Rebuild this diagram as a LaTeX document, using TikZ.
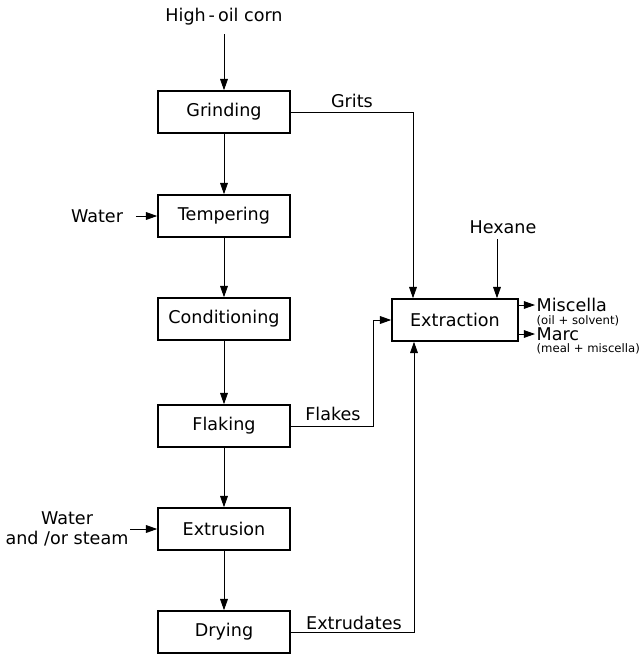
\documentclass[tikz,border=0pt]{standalone}
\usepackage{fontspec}
\setmainfont{DejaVu Sans}
\usetikzlibrary{arrows.meta,calc}
\tikzset{
    stage/.style={draw, line width=1.1pt, minimum width=3.3cm, minimum height=1.05cm,
        inner sep=0pt, font=\fontsize{12.5}{14}\selectfont},
    flow/.style={-{Triangle[length=8pt,width=5.5pt]}, line width=0.6pt},
    lbl/.style={font=\fontsize{12.5}{14}\selectfont, inner sep=1pt},
    note/.style={font=\fontsize{8.3}{9}\selectfont, inner sep=1pt},
}

\begin{document}
\begin{tikzpicture}[x=0.025cm, y=-0.025cm]
    \useasboundingbox (0,0) rectangle (643,654);

    \node[stage] (grinding) at (224,112) {Grinding};
    \node[stage] (tempering) at (224,216) {Tempering};
    \node[stage] (conditioning) at (224,319) {Conditioning};
    \node[stage] (flaking) at (224,426) {Flaking};
    \node[stage] (extrusion) at (224,529) {Extrusion};
    \node[stage] (drying) at (224,632) {Drying};
    \node[stage, minimum width=3.15cm] (extraction) at (455,320) {Extraction};

    \node[lbl] (corn) at (224,17) {High\,-\,oil corn};
    \node[lbl] (water) at (97,216) {Water};
    \node[lbl, align=center] (steam) at (67,529) {Water\\and /or steam};
    \node[lbl] (hexane) at (503,227) {Hexane};
    \node[lbl, anchor=west] (miscella) at (535,305) {Miscella};
    \node[note, anchor=north west] at (miscella.south west) {(oil + solvent)};
    \node[lbl, anchor=west] (marc) at (535,334) {Marc};
    \node[note, anchor=north west] at (marc.south west) {(meal + miscella)};

    \node[lbl] (grits) at (352,101) {Grits};
    \node[lbl] (flakes) at (333,414) {Flakes};
    \node[lbl] (extrudates) at (354,623) {Extrudates};

    % main line
    \draw[flow, shorten <=5pt] (corn) -- (grinding);
    \draw[flow] (grinding) -- (tempering);
    \draw[flow] (tempering) -- (conditioning);
    \draw[flow] (conditioning) -- (flaking);
    \draw[flow] (flaking) -- (extrusion);
    \draw[flow] (extrusion) -- (drying);

    % side inputs
    \draw[flow, shorten <=8pt] (water.east) -- (tempering.west);
    \draw[flow] (steam.east |- extrusion.west) -- (extrusion.west);
    \coordinate (hx) at ($(extraction.north)+(42,0)$);
    \draw[flow, shorten <=3pt] (hexane.south -| hx) -- (hx);

    % to extraction
    \coordinate (gr) at ($(extraction.north)+(-42,0)$);
    \draw[flow] (grinding.east) -| (gr);
    \coordinate (fk) at (373,426);
    \draw[flow] (flaking.east) -- (fk) |- (extraction.west);
    \coordinate (ex) at ($(extraction.south)+(-41,0)$);
    \draw[flow] (drying.east) -| (ex);

    % products
    \draw[flow] (extraction.east |- miscella.west) -- (miscella.west);
    \draw[flow] (extraction.east |- marc.west) -- (marc.west);
\end{tikzpicture}
\end{document}
